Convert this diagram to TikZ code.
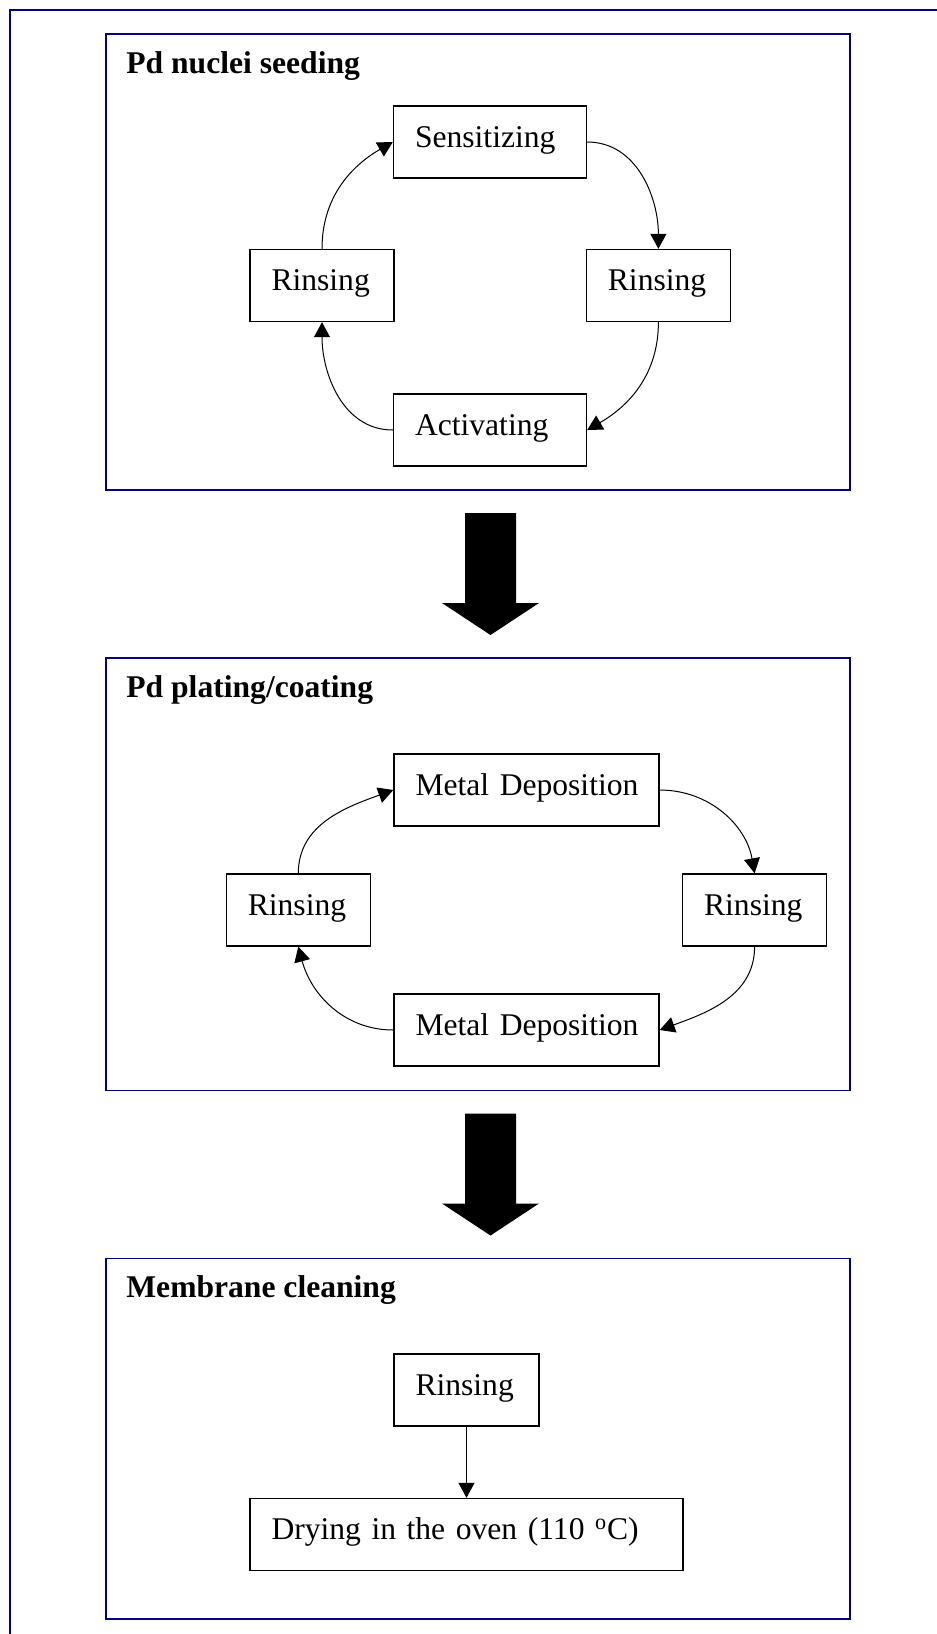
\documentclass[tikz,border=0pt]{standalone}
\usepackage{fontspec}
\setmainfont{Liberation Serif}
\usetikzlibrary{arrows.meta}
\hyphenpenalty=10000
\definecolor{framenavy}{RGB}{0,0,128}
\begin{document}
\begin{tikzpicture}[x=0.5pt,y=0.5pt,
  groupframe/.style={draw=framenavy,line width=0.9pt},
  stepbox/.style={draw,line width=0.7pt,align=left,inner xsep=10.75pt,inner ysep=0pt,
    minimum height=36pt,text height=9.8pt,text depth=4.7pt,
    font=\fontsize{15.8}{19}\selectfont},
  grouptitle/.style={anchor=base west,inner sep=0pt,font=\fontsize{15.8}{19}\selectfont\bfseries},
  flow/.style={line width=0.5pt,-{Triangle[length=7.5pt,width=8pt]}},
  blockarrow/.style={fill=black}]

% page area
\useasboundingbox (0,0) rectangle (937,-1634);
\fill[white] (0,0) rectangle (937,-1634);

% outer frame (only its top and left sides fall on the page)
\draw[groupframe] (937,-10) -- (10,-10) -- (10,-1634);

% ---------- stage 1: seeding ----------
\draw[groupframe] (106,-34) rectangle (850,-490);
\node[grouptitle] (t1) at (126,-73) {Pd nuclei seeding};

\node[stepbox,text width=75pt]   (sens)  at (490,-142)     {\mbox{Sensitizing}};
\node[stepbox,text width=50.5pt] (rinR1) at (658.4,-285.5) {\mbox{Rinsing}};
\node[stepbox,text width=75pt]   (act)   at (490,-430)     {\mbox{Activating}};
\node[stepbox,text width=50.5pt] (rinL1) at (322,-285.5)   {\mbox{Rinsing}};

\draw[flow] (rinL1.north) to[out=90,in=210] (sens.west);
\draw[flow] (sens.east) to[out=0,in=90] (rinR1.north);
\draw[flow] (rinR1.south) to[out=-90,in=30] (act.east);
\draw[flow] (act.west) to[out=180,in=-90] (rinL1.south);

% block arrow between stages 1 and 2
\coordinate (b1) at (490.5,-513);
\fill[blockarrow] (b1) ++(-25.5,0) -- ++(51,0) -- ++(0,-90) -- ++(23,0)
  -- ++(-48.5,-32) -- ++(-48.5,32) -- ++(23,0) -- cycle;

% ---------- stage 2: plating ----------
\draw[groupframe] (106,-657.7) rectangle (850,-1090.4);
\node[grouptitle] (t2) at (126,-697) {Pd plating/coating};

\node[stepbox,text width=111pt]  (depT)  at (526.5,-790)  {\mbox{Metal Deposition}};
\node[stepbox,text width=50.5pt] (rinR2) at (754.6,-910)  {\mbox{Rinsing}};
\node[stepbox,text width=111pt]  (depB)  at (526.5,-1030) {\mbox{Metal Deposition}};
\node[stepbox,text width=50.5pt] (rinL2) at (298.3,-910)  {\mbox{Rinsing}};

\draw[flow] (rinL2.north) to[out=90,in=200] (depT.west);
\draw[flow] (depT.east) to[out=0,in=100] (rinR2.north);
\draw[flow] (rinR2.south) to[out=-90,in=20] (depB.east);
\draw[flow] (depB.west) to[out=180,in=-75] (rinL2.south);

% block arrow between stages 2 and 3
\coordinate (b2) at (490.5,-1113.5);
\fill[blockarrow] (b2) ++(-25.5,0) -- ++(51,0) -- ++(0,-90) -- ++(23,0)
  -- ++(-48.5,-32) -- ++(-48.5,32) -- ++(23,0) -- cycle;

% ---------- stage 3: cleaning ----------
\draw[groupframe] (106,-1258.4) rectangle (850,-1618.7);
\node[grouptitle] (t3) at (126,-1297) {Membrane cleaning};

\node[stepbox,text width=51pt]  (rin3) at (466.5,-1390)   {\mbox{Rinsing}};
\node[stepbox,text width=195pt] (dry)  at (466.5,-1534.5) {\mbox{Drying in the oven (110 \textsuperscript{o}C)}};

\draw[flow] (rin3) -- (dry);

\end{tikzpicture}
\end{document}
